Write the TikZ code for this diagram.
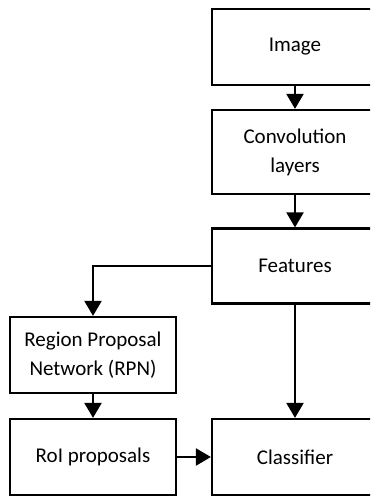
\documentclass[tikz,border=0pt]{standalone}
\usepackage{fontspec}
\setmainfont{Carlito}
\usepackage{tikz}
\usetikzlibrary{arrows.meta}

\tikzset{
  blockbox/.style={draw, line width=2.2pt, minimum width=166pt, align=center, font=\fontsize{21}{29}\selectfont},
  flow/.style={line width=2.2pt, -{Triangle[length=15pt, width=17pt]}}
}

\begin{document}
\begin{tikzpicture}[x=1pt, y=-1pt]
            \useasboundingbox (0,0) rectangle (370,496);
            \clip (0,0) rectangle (370,496);
            \node[blockbox, minimum height=76pt] (img) at (295,47) {Image};
            \node[blockbox, minimum height=84pt] (conv) at (295,152) {Convolution\\layers};
            \node[blockbox, minimum height=75pt] (feat) at (295,266) {Features};
            \node[blockbox, minimum height=76pt] (rpn) at (93,355) {Region Proposal\\Network (RPN)};
            \node[blockbox, minimum height=76pt] (roi) at (93,457) {RoI proposals};
            \node[blockbox, minimum height=76pt] (cls) at (295,457) {Classifier};
            \draw[flow](img)--(conv);
            \draw[flow](conv)--(feat);
            \draw[flow](feat.west) -| (rpn.north);
            \draw[flow](feat)--(cls);
            \draw[flow](rpn)--(roi);
            \draw[flow](roi)--(cls);
        \end{tikzpicture}
\end{document}
